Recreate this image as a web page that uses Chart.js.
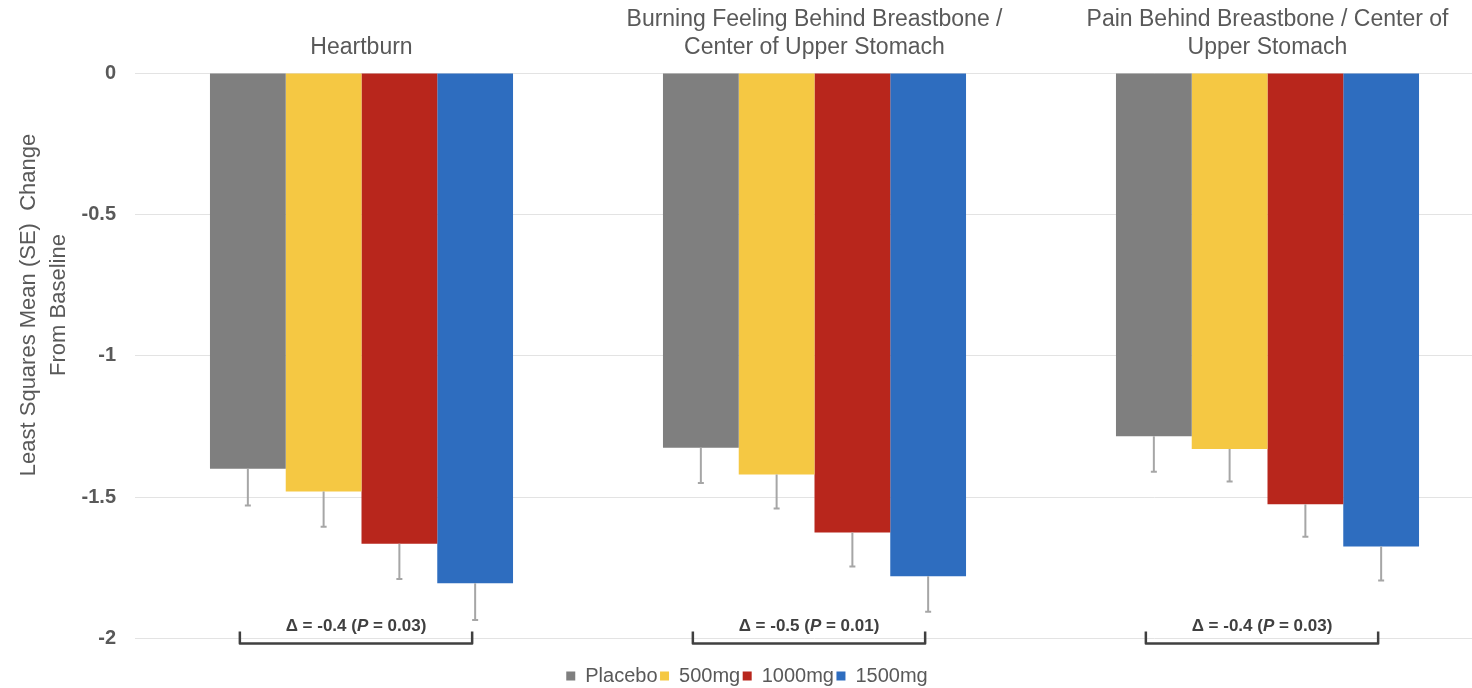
<!DOCTYPE html>
<html>
<head>
<meta charset="utf-8">
<script src="https://cdn.jsdelivr.net/npm/chart.js@4"></script>
<style>
  html, body { margin: 0; padding: 0; background: #fff; overflow: hidden; }
  #wrap { width: 1494px; height: 696px; }
</style>
</head>
<body>
<div id="wrap"><canvas id="chart" width="1494" height="696"></canvas></div>
<script>
// ---- data ----
const categories = [
    'Heartburn',
    ['Burning Feeling Behind Breastbone /', 'Center of Upper Stomach'],
    ['Pain Behind Breastbone / Center of', 'Upper Stomach']
];
const seriesNames = ['Placebo', '500mg', '1000mg', '1500mg'];
const placebo = [-1.40, -1.325, -1.285];
const mg500   = [-1.48, -1.42, -1.33];
const mg1000  = [-1.665, -1.625, -1.525];
const mg1500  = [-1.805, -1.78, -1.675];
const sePlacebo = [0.13, 0.125, 0.125];
const se500     = [0.125, 0.12, 0.115];
const se1000    = [0.125, 0.12, 0.115];
const se1500    = [0.13, 0.125, 0.12];
const deltaLabels = ['-0.4', '-0.5', '-0.4'];
const pLabels = ['0.03', '0.01', '0.03'];
const yTicks = [0, -0.5, -1, -1.5, -2];

const colors = ['#7f7f7f', '#f5c843', '#b8261c', '#2e6dbf'];
const FONT = '"Liberation Sans", Arial, sans-serif';
const TEXT = '#595959';

// error bars + comparison brackets + y title
const extrasPlugin = {
    id: 'extras',
    afterDatasetsDraw(chart) {
        const ctx = chart.ctx;
        const y = chart.scales.y;
        const seLists = [sePlacebo, se500, se1000, se1500];

        // error bars, drawn downward from each bar end
        ctx.save();
        ctx.strokeStyle = '#a6a6a6';
        ctx.lineWidth = 2;
        chart.data.datasets.forEach((ds, i) => {
            const meta = chart.getDatasetMeta(i);
            meta.data.forEach((bar, j) => {
                const v = ds.data[j];
                const yTop = y.getPixelForValue(v);
                const yEnd = y.getPixelForValue(v - seLists[i][j]);
                ctx.beginPath();
                ctx.moveTo(bar.x, yTop);
                ctx.lineTo(bar.x, yEnd);
                ctx.moveTo(bar.x - 3, yEnd);
                ctx.lineTo(bar.x + 3, yEnd);
                ctx.stroke();
            });
        });
        ctx.restore();

        // brackets placebo -> 1500mg
        const first = chart.getDatasetMeta(0).data;
        const last = chart.getDatasetMeta(3).data;
        const yBase = y.getPixelForValue(-2.018);
        const yTip = y.getPixelForValue(-1.975);
        const yText = y.getPixelForValue(-1.957);
        ctx.save();
        ctx.strokeStyle = '#404040';
        ctx.lineWidth = 2.5;
        ctx.lineJoin = 'round';
        first.forEach((bar, j) => {
            const x0 = bar.x - 8;
            const x1 = last[j].x - 3;
            ctx.beginPath();
            ctx.moveTo(x0, yTip);
            ctx.lineTo(x0, yBase);
            ctx.lineTo(x1, yBase);
            ctx.lineTo(x1, yTip);
            ctx.stroke();

            // label: Δ = -0.4 (P = 0.03), P in italics
            const bold = 'bold 17px ' + FONT;
            const italic = 'italic bold 17px ' + FONT;
            const partA = '\u0394 = ' + deltaLabels[j] + ' (';
            const partB = 'P';
            const partC = ' = ' + pLabels[j] + ')';
            ctx.font = bold;
            const wA = ctx.measureText(partA).width;
            const wC = ctx.measureText(partC).width;
            ctx.font = italic;
            const wB = ctx.measureText(partB).width;
            let x = (x0 + x1) / 2 - (wA + wB + wC) / 2;
            ctx.fillStyle = '#404040';
            ctx.textBaseline = 'middle';
            ctx.textAlign = 'left';
            ctx.font = bold;
            ctx.fillText(partA, x, yText);
            x += wA;
            ctx.font = italic;
            ctx.fillText(partB, x, yText);
            x += wB;
            ctx.font = bold;
            ctx.fillText(partC, x, yText);
        });
        ctx.restore();

        // y axis title (two lines, rotated)
        ctx.save();
        ctx.fillStyle = TEXT;
        ctx.font = '22px ' + FONT;
        ctx.textAlign = 'center';
        ctx.textBaseline = 'middle';
        ctx.translate(29, 305);
        ctx.rotate(-Math.PI / 2);
        ctx.fillText('Least Squares Mean (SE)  Change', 0, 0);
        ctx.fillText('From Baseline', 0, 30);
        ctx.restore();
    }
};

const chart = new Chart(document.getElementById('chart'), {
    type: 'bar',
    data: {
        labels: categories,
        datasets: [placebo, mg500, mg1000, mg1500].map((vals, i) => ({
            label: seriesNames[i],
            data: vals,
            backgroundColor: colors[i],
            borderWidth: 0,
            barPercentage: 1,
            categoryPercentage: 0.669
        }))
    },
    options: {
        responsive: false,
        animation: false,
        layout: { padding: 0 },
        plugins: {
            tooltip: { enabled: false },
            legend: {
                position: 'bottom',
                labels: {
                    boxWidth: 9,
                    boxHeight: 9,
                    padding: 2.5,
                    color: TEXT,
                    font: { family: FONT, size: 20 }
                }
            }
        },
        scales: {
            x: {
                position: 'top',
                grid: { display: false, drawTicks: false },
                border: { display: false },
                ticks: {
                    color: TEXT,
                    padding: 11,
                    maxRotation: 0,
                    autoSkip: false,
                    font: { family: FONT, size: 23, lineHeight: 1.22 }
                },
                afterFit(scale) { scale.height = 73; }
            },
            x2: {
                position: 'bottom',
                grid: { display: false, drawTicks: false },
                border: { display: false },
                ticks: { display: false },
                afterFit(scale) { scale.height = 25; }
            },
            y: {
                min: -2,
                max: 0,
                afterBuildTicks(scale) {
                    scale.ticks = yTicks.map(v => ({ value: v }));
                },
                grid: { color: '#e3e3e3', lineWidth: 1, drawTicks: false },
                border: { display: false },
                ticks: {
                    color: TEXT,
                    padding: 19,
                    font: { family: FONT, size: 20, weight: 'bold' },
                    callback: v => String(Math.round(v * 10) / 10)
                },
                afterFit(scale) { scale.width = 135; }
            }
        }
    },
    plugins: [extrasPlugin]
});
</script>
</body>
</html>
